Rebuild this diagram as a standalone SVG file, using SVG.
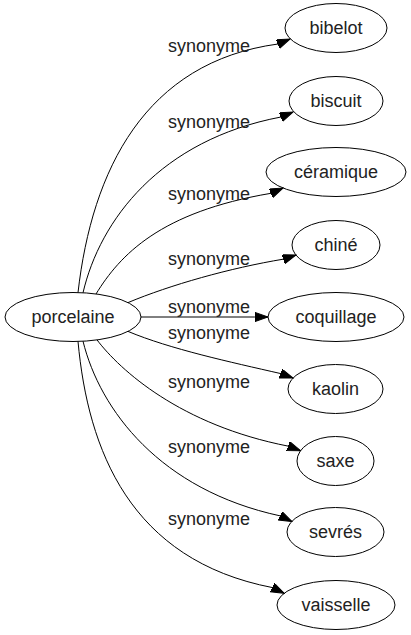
<svg xmlns="http://www.w3.org/2000/svg" width="411" height="635" viewBox="0 0 411 635">
<defs>
<style>
.node ellipse{fill:none;stroke:#000;stroke-width:1}
.node text{font-family:"Liberation Sans",Arial,sans-serif;font-size:18px;fill:#222;text-anchor:middle}
.edges path{fill:none;stroke:#000;stroke-width:1;marker-end:url(#arr)}
.edges text{font-family:"Liberation Sans",Arial,sans-serif;font-size:18px;fill:#222;text-anchor:middle}
</style>
<marker id="arr" markerUnits="userSpaceOnUse" markerWidth="14" markerHeight="10" refX="13.3" refY="4.7" orient="auto">
<path d="M0,0 L13.3,4.7 L0,9.4 Z" fill="#000" stroke="#000" stroke-width="1"/>
</marker>
</defs>
<rect width="411" height="635" fill="#fff"/>
<g class="edges" id="edges">
<path d="M78,292.6 C92,170 145,62 278,44 L290,39"/>
<text x="209" y="52">synonyme</text>
<path d="M83,292.8 C100,220 160,140 281,117 L293,112"/>
<text x="209" y="128">synonyme</text>
<path d="M96,294 C120,255 160,212 271,193.3 L283,188"/>
<text x="209" y="200">synonyme</text>
<path d="M128,302.6 C170,285 230,268 283.7,259.1 L296,255"/>
<text x="209" y="265">synonyme</text>
<path d="M141,317 L254.7,317 L268,317"/>
<text x="209" y="312.5">synonyme</text>
<text x="209" y="339">synonyme</text>
<path d="M128,331.4 C170,349 230,362 280.8,373.6 L293,378"/>
<text x="209" y="388">synonyme</text>
<path d="M97,339.9 C120,370 180,425 288.5,446.2 L300.6,450.7"/>
<text x="209" y="453">synonyme</text>
<path d="M83,341.2 C100,410 160,490 280.3,515.9 L292,521.5"/>
<text x="209" y="525">synonyme</text>
<path d="M78,341.4 C88,450 130,560 272.5,587.6 L284.2,593.3"/>
</g>
<g class="node" id="porcelaine"><ellipse cx="73" cy="317" rx="68" ry="24.5"/><text x="73" y="323">porcelaine</text></g>
<g class="node" id="bibelot"><ellipse cx="336" cy="28" rx="51" ry="24.5"/><text x="336" y="34">bibelot</text></g>
<g class="node" id="biscuit"><ellipse cx="336" cy="101" rx="47" ry="24.5"/><text x="336" y="107">biscuit</text></g>
<g class="node" id="ceramique"><ellipse cx="336" cy="172" rx="70" ry="24.5"/><text x="336" y="178">céramique</text></g>
<g class="node" id="chine"><ellipse cx="336" cy="245" rx="44" ry="24.5"/><text x="336" y="251">chiné</text></g>
<g class="node" id="coquillage"><ellipse cx="336" cy="317" rx="68" ry="24.5"/><text x="336" y="323">coquillage</text></g>
<g class="node" id="kaolin"><ellipse cx="335.5" cy="389" rx="47.5" ry="24.5"/><text x="335.5" y="395">kaolin</text></g>
<g class="node" id="saxe"><ellipse cx="335.5" cy="461" rx="38.5" ry="24.5"/><text x="335.5" y="467">saxe</text></g>
<g class="node" id="sevres"><ellipse cx="335.5" cy="532" rx="48.5" ry="24.5"/><text x="335.5" y="538">sevrés</text></g>
<g class="node" id="vaisselle"><ellipse cx="336" cy="605" rx="59" ry="24.5"/><text x="336" y="611">vaisselle</text></g>
</svg>
